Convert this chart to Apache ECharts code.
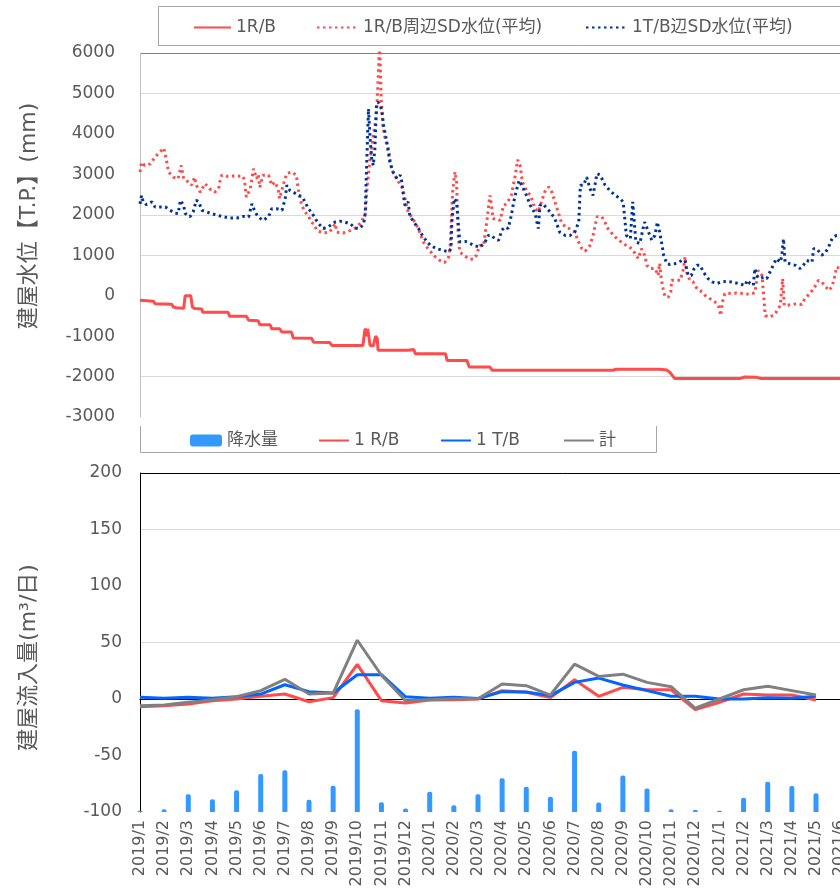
<!DOCTYPE html>
<html>
<head>
<meta charset="utf-8">
<script src="https://cdn.jsdelivr.net/npm/echarts@6/dist/echarts.min.js"></script>
<style>
  html, body { margin: 0; padding: 0; overflow: hidden; background: #fff; }
  #main { width: 1000px; height: 894px; }
</style>
</head>
<body>
<div id="main"></div>
<script>
var FONT = '"DejaVu Sans", "Noto Sans CJK JP", sans-serif';
var GRAY_TEXT = '#595959';

// 上段：建屋水位 [2019/1/1からの経過日数, 水位mm]
var r1Level = [[0,-115],[17,-140],[19,-200],[40,-210],[42,-280],[46,-300],[55,-310],[57,0],[64,0],[66,-280],[69,-320],[78,-330],[79,-410],[111,-410],[113,-510],[134,-510],[137,-610],[149,-620],[151,-720],[164,-720],[166,-815],[176,-820],[179,-900],[191,-900],[193,-1045],[216,-1050],[219,-1150],[239,-1160],[242,-1230],[281,-1230],[283,-900],[284,-815],[286,-1000],[287,-820],[290,-1230],[294,-1240],[297,-1000],[299,-1050],[300,-1350],[338,-1350],[340,-1320],[345,-1330],[347,-1435],[385,-1435],[387,-1600],[412,-1600],[415,-1765],[441,-1765],[444,-1845],[596,-1845],[600,-1820],[655,-1820],[664,-1840],[668,-1900],[674,-2050],[756,-2050],[762,-2010],[777,-2020],[783,-2050],[900,-2050]];

var r1Sd = [[0,3060],[2,3300],[6,3220],[13,3260],[19,3430],[25,3550],[30,3650],[33,3380],[36,3060],[42,2930],[48,2890],[52,3220],[55,2890],[61,2810],[65,2730],[69,2930],[71,2730],[76,2560],[82,2770],[88,2640],[94,2560],[99,2640],[101,2850],[103,2980],[109,2950],[120,2960],[130,2950],[132,2810],[134,2440],[139,2640],[143,3140],[147,2890],[149,3000],[151,2680],[155,2980],[162,2980],[166,2730],[170,2810],[174,2640],[176,2400],[181,2770],[185,3020],[191,3060],[197,2980],[200,2560],[204,2230],[208,2070],[212,1980],[216,1820],[220,1740],[223,1610],[231,1550],[239,1570],[246,1780],[248,1570],[256,1550],[265,1610],[273,1690],[279,1820],[284,2030],[286,2640],[290,3380],[294,3960],[298,4450],[300,5280],[302,6300],[304,4870],[306,4210],[309,3880],[313,3630],[317,3140],[321,2980],[326,2810],[330,2690],[334,2400],[338,2070],[344,1900],[351,1650],[357,1330],[363,1160],[372,960],[378,870],[384,820],[389,960],[391,1240],[394,2560],[397,3060],[399,2810],[401,1480],[403,1080],[408,1000],[414,915],[420,900],[424,1000],[428,1240],[433,1240],[437,1820],[441,2480],[443,2230],[445,1900],[450,1900],[454,1860],[458,2230],[462,2270],[468,2480],[473,2980],[476,3360],[479,3220],[482,2810],[487,2600],[492,2480],[498,2150],[502,2070],[506,2320],[510,2560],[515,2690],[519,2560],[523,2320],[527,2070],[531,1820],[536,1700],[542,1650],[548,1570],[552,1360],[557,1160],[561,1100],[567,1240],[571,1490],[576,1950],[582,1950],[586,1820],[590,1650],[597,1490],[601,1410],[607,1320],[613,1240],[620,1160],[624,1040],[628,915],[632,1160],[636,1000],[639,750],[643,670],[649,670],[653,500],[655,800],[657,420],[660,90],[662,-30],[666,-30],[669,90],[670,380],[681,380],[685,670],[687,960],[689,585],[693,380],[697,340],[702,170],[706,130],[712,10],[718,-70],[725,-160],[729,-240],[732,-490],[734,-160],[737,50],[752,65],[769,35],[775,75],[779,625],[781,600],[784,500],[786,10],[788,-490],[792,-530],[798,-490],[802,-400],[807,-240],[810,420],[812,-240],[815,-240],[828,-200],[834,-220],[838,-70],[844,50],[849,170],[855,380],[861,300],[868,130],[872,215],[875,420],[878,710],[882,670],[895,700]];

var t1Sd = [[0,2270],[2,2480],[4,2320],[8,2250],[15,2320],[19,2190],[25,2190],[32,2190],[38,2110],[44,2040],[48,2030],[51,2360],[55,2230],[57,2030],[63,1950],[67,2070],[71,2360],[74,2320],[78,2110],[84,2070],[90,2030],[97,1990],[105,1950],[113,1920],[122,1920],[130,1960],[137,1950],[141,2270],[145,2070],[149,1950],[155,1860],[162,1950],[166,2150],[172,2150],[179,2110],[183,2400],[185,2730],[189,2600],[193,2560],[200,2480],[204,2450],[208,2320],[212,2150],[216,2070],[221,1900],[225,1780],[231,1660],[237,1700],[246,1820],[252,1840],[258,1820],[265,1780],[271,1670],[277,1660],[282,1780],[284,2070],[285,2810],[287,4050],[288,4620],[290,3880],[292,3390],[294,3220],[296,3630],[298,4700],[300,4790],[303,4700],[305,4540],[307,4210],[311,3800],[315,3300],[319,3050],[324,2890],[328,2980],[330,2810],[332,2480],[334,2230],[338,2320],[340,1980],[345,1820],[351,1660],[357,1450],[366,1240],[374,1160],[382,1120],[389,1080],[392,1160],[393,1820],[396,2400],[399,2320],[401,1820],[403,1330],[410,1340],[416,1290],[422,1230],[429,1200],[435,1330],[439,1490],[443,1490],[447,1410],[452,1370],[456,1620],[460,1700],[464,1660],[468,1980],[471,2320],[475,2650],[478,2850],[483,2650],[487,2480],[492,2230],[498,2030],[502,1660],[504,2230],[508,2270],[513,2150],[517,2070],[523,1900],[529,1570],[536,1490],[542,1490],[548,1570],[553,1820],[555,2730],[559,2730],[563,2930],[567,2650],[571,2480],[576,3020],[580,2980],[586,2740],[592,2600],[599,2480],[605,2400],[609,2320],[611,1900],[613,1490],[618,1410],[621,2320],[623,1820],[625,1330],[630,1290],[634,1660],[636,1820],[641,1570],[645,1370],[649,1490],[652,1820],[655,1570],[658,1240],[660,1000],[664,790],[668,770],[674,790],[679,830],[683,870],[687,870],[689,630],[691,500],[695,500],[697,630],[702,750],[706,750],[710,585],[716,420],[721,340],[727,300],[733,340],[739,355],[746,340],[754,300],[763,255],[765,380],[769,300],[773,255],[775,670],[777,500],[781,420],[786,460],[790,420],[794,585],[798,750],[802,915],[807,830],[809,1000],[811,1410],[813,830],[819,790],[826,750],[832,670],[836,750],[840,870],[847,830],[849,1160],[853,1160],[859,1000],[863,1040],[868,1200],[870,1330],[874,1450],[878,1490],[882,1490],[895,1490]];

// 下段：月別
var months = ['2019/1','2019/2','2019/3','2019/4','2019/5','2019/6','2019/7','2019/8','2019/9','2019/10','2019/11','2019/12',
  '2020/1','2020/2','2020/3','2020/4','2020/5','2020/6','2020/7','2020/8','2020/9','2020/10','2020/11','2020/12',
  '2021/1','2021/2','2021/3','2021/4','2021/5','2021/6','2021/7','2021/8','2021/9','2021/10','2021/11','2021/12'];
// 降水量の棒の上端（左軸目盛りで読んだ値、棒は-100から立ち上がる）
var rainTop = [-98.8,-97.6,-84.3,-88.8,-80.8,-66.4,-63.1,-89.1,-76.7,-9.1,-91.4,-97.0,
  -82.0,-94.0,-84.3,-70.2,-77.6,-86.4,-45.7,-91.7,-67.8,-79.3,-97.6,-97.9,
  -98.8,-87.3,-73.2,-77.0,-83.5];
var inflowR = [-6.8,-5.9,-4.4,-1.5,0,2.4,4.4,-2.4,1.2,30.6,-1.5,-3.5,
  -0.9,-0.6,0,7.4,5.9,1.2,17,2.4,10.3,8.2,8.2,-9.4,
  -2.9,4.4,3.5,3.5,-0.9];
var inflowT = [1.5,0.6,1.5,0.6,2,4.4,12.6,6.5,5.3,21.5,21.5,2,
  0.6,1.5,0.5,6.5,6.2,3,14.7,18.5,12.4,7.4,2.4,2.4,
  0,0,1,0.6,2.4];
var inflowSum = [-5.9,-5.3,-2.9,-0.6,2,7.4,17.4,4.4,5.3,52,21,-1.5,
  -0.6,0.3,0.3,13.2,11.8,3.5,30.9,20,22,14.7,10.9,-8.2,
  0,8.2,11.2,7.4,3.5];

(function() {
  var day0 = Date.UTC(2019, 0, 1);
  function toTime(list) {
    return list.map(function(p) { return [day0 + p[0] * 86400000, p[1]]; });
  }
  var T = 'rgba(0,0,0,0)';
  var labelStyle = { color: GRAY_TEXT, fontSize: 17, fontFamily: FONT, formatter: function(v) { return String(v); } };
  var legendText = { color: GRAY_TEXT, fontSize: 17, fontFamily: FONT };

  // 凡例は1項目ずつ配置（線の凡例は記号なし）
  function oneLegend(name, left, top, w, h, isBar) {
    var lg = {
      data: [name], left: left, top: top, itemWidth: w, itemHeight: h,
      selectedMode: false, padding: 0, textStyle: legendText
    };
    if (isBar) {
      lg.data = [{ name: name, icon: 'roundRect' }];
    } else {
      lg.itemStyle = { opacity: 0 };
    }
    return lg;
  }

  var myChart = echarts.init(document.getElementById('main'));
  var option = {
    animation: false,
    textStyle: { fontFamily: FONT },
    legend: [
      oneLegend('1R/B', 193, 19, 37, 14),
      oneLegend('1R/B周辺SD水位(平均)', 316, 19, 41, 14),
      oneLegend('1T/B辺SD水位(平均)', 585, 19, 41, 14),
      oneLegend('降水量', 190, 432, 32, 12, true),
      oneLegend('1 R/B', 318, 432, 30, 12),
      oneLegend('1 T/B', 440, 432, 30, 12),
      oneLegend('計', 563, 432, 30, 12)
    ],
    graphic: [
      { type: 'rect', shape: { x: 158.5, y: 6.5, width: 900, height: 39 },
        style: { fill: 'none', stroke: '#a6a6a6', lineWidth: 1 }, silent: true },
      { type: 'polyline', shape: { points: [[140.5, 426], [140.5, 452.5], [656.5, 452.5], [656.5, 426]] },
        style: { fill: 'none', stroke: '#a6a6a6', lineWidth: 1 }, silent: true }
    ],
    grid: [
      { left: 140, top: 53, width: 845, height: 364 },
      { left: 140, top: 473, width: 845, height: 339 }
    ],
    xAxis: [
      { type: 'time', gridIndex: 0, min: day0, max: day0 + 1065 * 86400000, show: false },
      {
        type: 'category', gridIndex: 1, data: months, boundaryGap: false,
        axisLine: { lineStyle: { color: '#000', width: 1 } },
        axisTick: { show: false },
        axisLabel: { rotate: 90, interval: 0, margin: 8, color: GRAY_TEXT, fontSize: 16, fontFamily: FONT }
      }
    ],
    yAxis: [
      {
        type: 'value', gridIndex: 0, min: -3000, max: 6000, interval: 1000,
        axisLine: { show: true, lineStyle: { color: '#c0c0c0' } },
        axisTick: { show: false },
        axisLabel: Object.assign({ margin: 25 }, labelStyle),
        splitLine: { lineStyle: { color: [T, '#d9d9d9', T, T, '#d9d9d9', '#d9d9d9', T, T, '#d9d9d9', '#808080'] } },
        name: '建屋水位【T.P.】(mm)', nameLocation: 'middle', nameGap: 100,
        nameTextStyle: { color: GRAY_TEXT, fontSize: 22, fontFamily: FONT, padding: [0, 0, 0, 38] }
      },
      {
        type: 'value', gridIndex: 1, min: -100, max: 200, interval: 50,
        axisLine: { show: true, lineStyle: { color: '#000' } },
        axisTick: { show: false },
        axisLabel: Object.assign({ margin: 18 }, labelStyle),
        splitLine: { lineStyle: { color: [T, T, '#d9d9d9', '#d9d9d9', T, '#d9d9d9', '#000'] } },
        name: '建屋流入量(m³/日)', nameLocation: 'middle', nameGap: 100,
        nameTextStyle: { color: GRAY_TEXT, fontSize: 22, fontFamily: FONT, padding: [0, 30, 0, 0] }
      },
      // 降水量用（非表示、-100を基点にするため0〜300）
      { type: 'value', gridIndex: 1, min: 0, max: 300, show: false }
    ],
    series: [
      {
        name: '1R/B', type: 'line', xAxisIndex: 0, yAxisIndex: 0,
        data: toTime(r1Level), showSymbol: false, symbol: 'none',
        lineStyle: { color: '#ff4b4b', width: 3 }, itemStyle: { color: '#ff4b4b' }
      },
      {
        name: '1R/B周辺SD水位(平均)', type: 'line', xAxisIndex: 0, yAxisIndex: 0,
        data: toTime(r1Sd), showSymbol: false, symbol: 'none',
        lineStyle: { color: '#ff4b4b', width: 3, type: [2.5, 3.5] }, itemStyle: { color: '#ff4b4b' }
      },
      {
        name: '1T/B辺SD水位(平均)', type: 'line', xAxisIndex: 0, yAxisIndex: 0,
        data: toTime(t1Sd), showSymbol: false, symbol: 'none',
        lineStyle: { color: '#003399', width: 3, type: [2.5, 3.5] }, itemStyle: { color: '#003399' }
      },
      {
        name: '降水量', type: 'bar', xAxisIndex: 1, yAxisIndex: 2,
        data: rainTop.map(function(v) { return +(v + 100).toFixed(1); }),
        barWidth: 5, itemStyle: { color: '#3399ff', borderRadius: [2, 2, 0, 0] }
      },
      {
        name: '1 R/B', type: 'line', xAxisIndex: 1, yAxisIndex: 1,
        data: inflowR, showSymbol: false, symbol: 'none',
        lineStyle: { color: '#ff4b4b', width: 3 }, itemStyle: { color: '#ff4b4b' }
      },
      {
        name: '1 T/B', type: 'line', xAxisIndex: 1, yAxisIndex: 1,
        data: inflowT, showSymbol: false, symbol: 'none',
        lineStyle: { color: '#0066ff', width: 3 }, itemStyle: { color: '#0066ff' }
      },
      {
        name: '計', type: 'line', xAxisIndex: 1, yAxisIndex: 1,
        data: inflowSum, showSymbol: false, symbol: 'none',
        lineStyle: { color: '#808080', width: 3 }, itemStyle: { color: '#808080' }
      }
    ]
  };
  myChart.setOption(option);
  window.addEventListener('resize', function() {
    myChart.resize();
  });
})();
</script>
</body>
</html>
